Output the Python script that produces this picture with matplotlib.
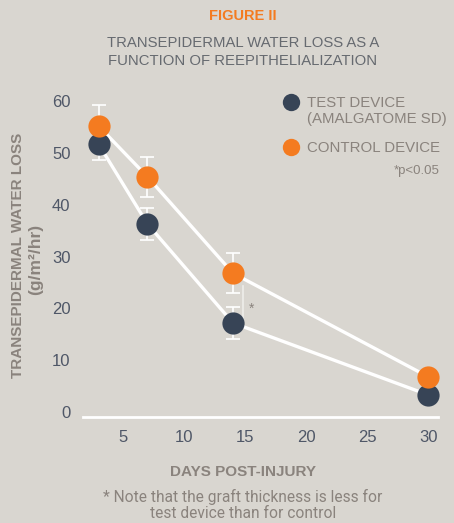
import matplotlib.pyplot as plt
from matplotlib.lines import Line2D

days = [3, 7, 14, 30]
test_loss = [51.7, 36.3, 17.2, 3.3]
test_err = [3.1, 3.0, 3.1, 1.0]
control_loss = [55.2, 45.4, 26.8, 6.8]
control_err = [4.1, 3.9, 3.9, 1.0]
x_ticks = [5, 10, 15, 20, 25, 30]
y_ticks = [0, 10, 20, 30, 40, 50, 60]

BG = '#d9d6d0'
NAVY = '#374456'
ORANGE = '#f47b20'
SLATE = '#4f5767'
GREY = '#8a837d'

plt.rcParams['font.family'] = ['Liberation Sans', 'DejaVu Sans']

W, H = 454, 523
fig = plt.figure(figsize=(W / 100, H / 100), dpi=100, facecolor=BG)
ax = fig.add_axes([83 / W, 1 - 417 / H, (438 - 83) / W, (417 - 95) / H])
ax.set_facecolor(BG)
ax.set_xlim(1.72, 30.8)
ax.set_ylim(-0.97, 61.2)

for vals, errs, col in [(control_loss, control_err, ORANGE), (test_loss, test_err, NAVY)]:
    ax.plot(days, vals, color='white', lw=2.4, zorder=2)
    ax.errorbar(days, vals, yerr=errs, fmt='none', ecolor='white', elinewidth=1.2,
                capsize=5, capthick=1.2, zorder=1)
for vals, col in [(test_loss, NAVY), (control_loss, ORANGE)]:
    ax.plot(days, vals, 'o', ms=16, color=col, mec='none', zorder=3, clip_on=False)

# significance bracket at day 14
ax.plot([14.8, 14.8], [17.2, 24.3], color='#eeeeea', lw=1.2, zorder=1)
ax.text(15.5, 20.0, '*', color=GREY, fontsize=10, ha='center', va='center')

for s in ['top', 'right', 'left']:
    ax.spines[s].set_visible(False)
ax.spines['bottom'].set_color('white')
ax.spines['bottom'].set_linewidth(2)
ax.set_xticks(x_ticks)
ax.set_yticks(y_ticks)
ax.tick_params(length=0, labelsize=12, labelcolor=SLATE)
ax.tick_params(axis='x', pad=9)
ax.tick_params(axis='y', pad=9)

# y-axis label, two lines
fig.text(18 / W, 1 - 255 / H, 'TRANSEPIDERMAL WATER LOSS', rotation=90, color=GREY,
         fontsize=11, fontweight='bold', ha='center', va='center')
fig.text(36 / W, 1 - 259 / H, '(g/m²/hr)', rotation=90, color=GREY,
         fontsize=12.5, fontweight='bold', ha='center', va='center')

# titles
fig.text(243 / W, 1 - 16 / H, 'FIGURE II', color=ORANGE, fontsize=10.5, fontweight='bold',
         ha='center', va='center')
fig.text(243 / W, 1 - 52 / H, 'TRANSEPIDERMAL WATER LOSS AS A\nFUNCTION OF REEPITHELIALIZATION',
         color='#666a70', fontsize=10.7, ha='center', va='center', linespacing=1.35)

# legend
for y, col in [(102, NAVY), (147, ORANGE)]:
    fig.add_artist(Line2D([291 / W], [1 - y / H], transform=fig.transFigure, marker='o',
                          ms=12.5, color=col, mec='none'))
fig.text(307 / W, 1 - 111 / H, 'TEST DEVICE\n(AMALGATOME SD)', color=GREY, fontsize=10.8,
         ha='left', va='center', linespacing=1.25)
fig.text(307 / W, 1 - 148 / H, 'CONTROL DEVICE', color=GREY, fontsize=10.8,
         ha='left', va='center')
fig.text(440 / W, 1 - 171 / H, '*p<0.05', color=GREY, fontsize=9.5, ha='right', va='center')

# bottom labels
fig.text(243 / W, 1 - 472 / H, 'DAYS POST-INJURY', color=GREY, fontsize=11, fontweight='bold',
         ha='center', va='center')
fig.text(243 / W, 1 - 505 / H, '* Note that the graft thickness is less for\ntest device than for control',
         color=GREY, fontsize=11.2, ha='center', va='center', linespacing=1.15,
         family=['Roboto', 'DejaVu Sans'])

fig.savefig('out.png', dpi=100, facecolor=BG)
